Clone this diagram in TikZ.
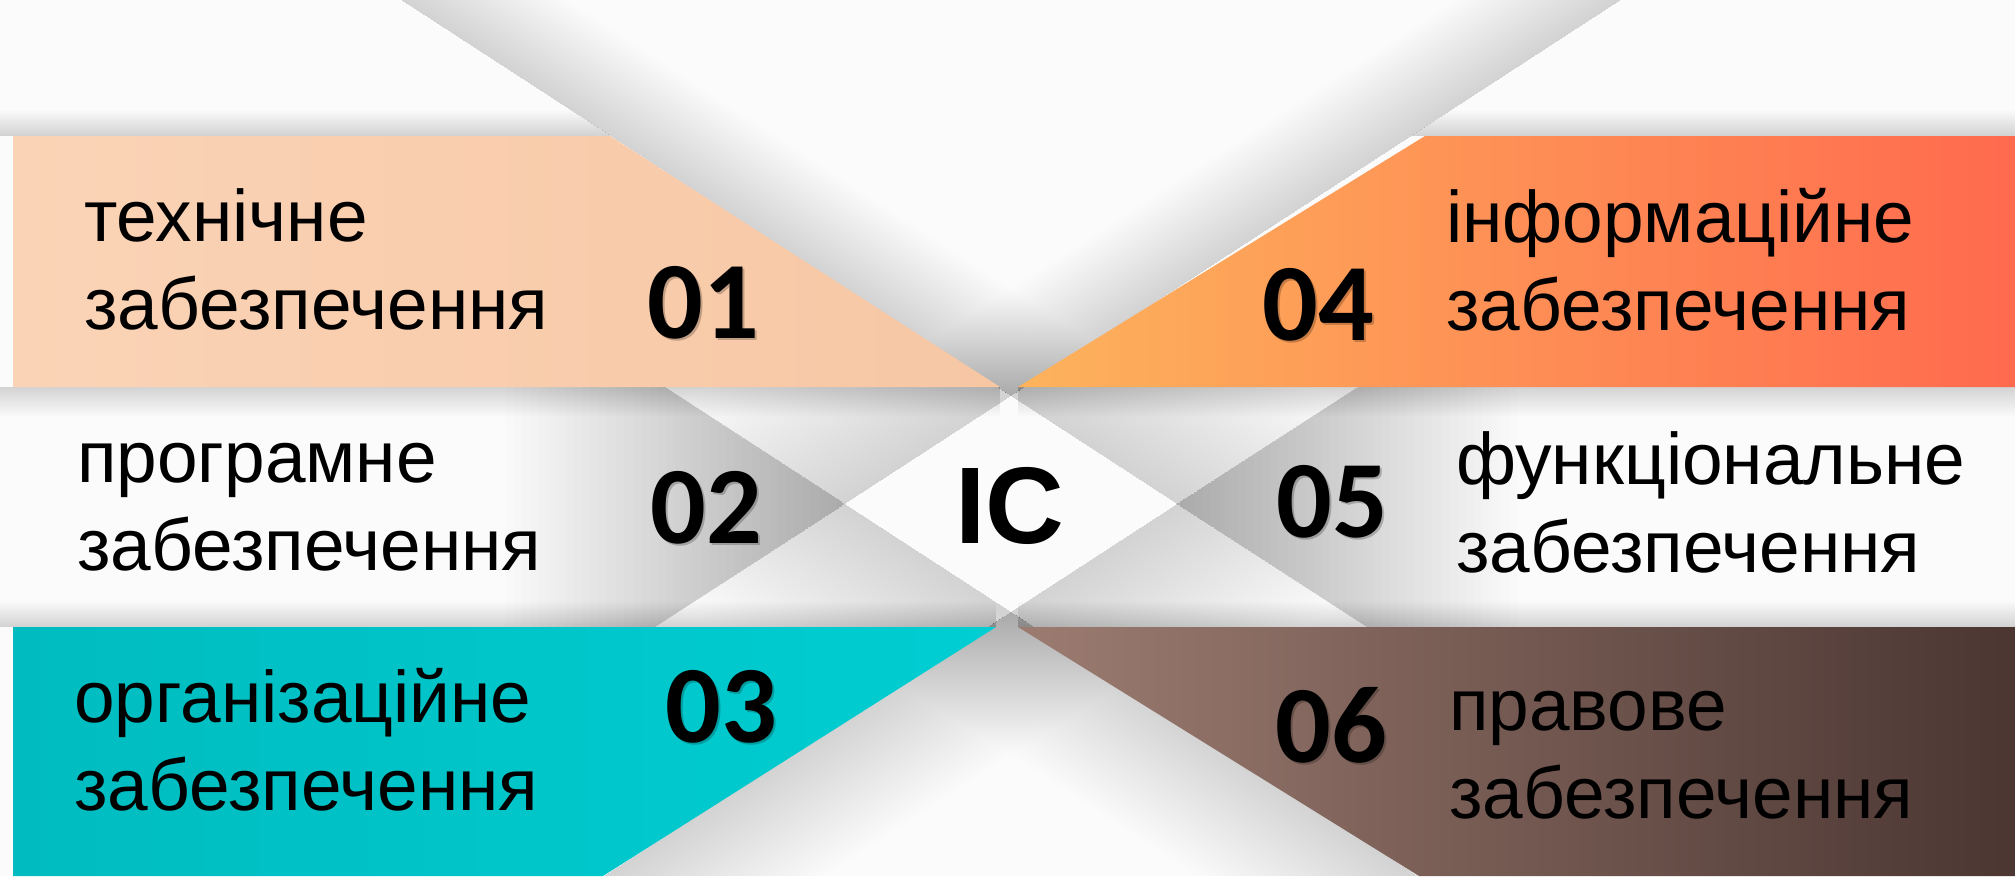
\documentclass[tikz,border=0pt]{standalone}
\usepackage{fontspec}
\setmainfont{Liberation Sans}
\newfontfamily\numfont{Carlito}
\definecolor{bgbase}{HTML}{FBFBFB}
\definecolor{bandAl}{HTML}{FAD3B6}
\definecolor{bandAr}{HTML}{F7C7A4}
\definecolor{bandBl}{HTML}{FDB35C}
\definecolor{bandBr}{HTML}{FF6A4E}
\definecolor{bandCl}{HTML}{00BCC0}
\definecolor{bandCr}{HTML}{00CED2}
\definecolor{bandDl}{HTML}{9C7C71}
\definecolor{bandDr}{HTML}{4B3632}
% soft shadow on one side of a fold line, clipped to a facet
\newcommand\shfacet[5]{%
  \begin{scope}
    \clip #1;
    \begin{scope}[shift={#2}, rotate=#3]
      \foreach \k in {1,...,40}{
        \fill[black, fill opacity=#5] (-2200,0) -- (2200,0) -- (2200,#4*\k/40) -- (-2200,#4*\k/40) -- cycle;
      }
    \end{scope}
  \end{scope}}
\tikzset{
  lab/.style={anchor=base west, inner sep=0pt, font=\fontsize{73}{88}\selectfont},
  num/.style={inner sep=0pt, font=\numfont\bfseries\fontsize{110}{110}\selectfont},
  numshadow/.style={num, text=black, text opacity=0.22},
  band/.style={draw=none}
}
\begin{document}
\begin{tikzpicture}[x=1pt,y=-1pt]
\useasboundingbox (0,0) rectangle (2015,876);
\fill[bgbase] (0,0) rectangle (2015,876);

% ---------- background facets ----------
% top V
\shfacet{(401,0) -- (1621,0) -- (1011,396) -- cycle}{(1011,396)}{147}{90}{0.0026}
\shfacet{(401,0) -- (1621,0) -- (1011,396) -- cycle}{(1011,396)}{213}{90}{0.0026}
% top side strips
\shfacet{(69,0) -- (401,0) -- (997,387) -- (665,387) -- cycle}{(278,136)}{147}{90}{0.0010}
\shfacet{(1621,0) -- (1953,0) -- (1358,387) -- (1025,387) -- cycle}{(1744,136)}{213}{90}{0.0010}
% middle row
\shfacet{(0,387) -- (665,387) -- (845,504) -- (655,627) -- (0,627) -- cycle}{(845,504)}{-90}{340}{0.0080}
\shfacet{(2015,387) -- (1358,387) -- (1177,504) -- (1367,627) -- (2015,627) -- cycle}{(1177,504)}{90}{340}{0.0080}
\shfacet{(665,387) -- (997,387) -- (1011,396) -- (845,504) -- cycle}{(1011,396)}{213}{170}{0.0055}
\shfacet{(1025,387) -- (1358,387) -- (1177,504) -- (1011,396) -- cycle}{(1011,396)}{147}{170}{0.0055}
\shfacet{(845,504) -- (1011,612) -- (988,627) -- (655,627) -- cycle}{(1011,612)}{-33}{170}{0.0055}
\shfacet{(1177,504) -- (1367,627) -- (1034,627) -- (1011,612) -- cycle}{(1011,612)}{33}{170}{0.0055}
% bottom inverted V
\shfacet{(1011,612) -- (1418,876) -- (604,876) -- cycle}{(1011,612)}{33}{120}{0.0040}
\shfacet{(1011,612) -- (1418,876) -- (604,876) -- cycle}{(1011,612)}{-33}{120}{0.0040}
% shadows of the bands
\shfacet{(0,100) -- (555,100) -- (611,136) -- (0,136) -- cycle}{(0,136)}{180}{26}{0.0026}
\shfacet{(1467,100) -- (2015,100) -- (2015,136) -- (1411,136) -- cycle}{(0,136)}{180}{26}{0.0026}
\shfacet{(0,387) -- (1000,387) -- (1000,425) -- (0,425) -- cycle}{(0,387)}{0}{30}{0.0055}
\shfacet{(1018,387) -- (2015,387) -- (2015,425) -- (1018,425) -- cycle}{(0,387)}{0}{30}{0.0055}
\shfacet{(0,595) -- (996,595) -- (996,627) -- (0,627) -- cycle}{(0,627)}{180}{26}{0.0032}
\shfacet{(1018,595) -- (2015,595) -- (2015,627) -- (1018,627) -- cycle}{(0,627)}{180}{26}{0.0032}

% ---------- bands ----------
\shade[band, left color=bandAl, right color=bandAr] (13,136) -- (610,136) -- (1000,387) -- (13,387) -- cycle;
\shade[band, left color=bandBl, right color=bandBr] (1425,136) -- (2015,136) -- (2015,387) -- (1018,387) -- cycle;
\shade[band, left color=bandCl, right color=bandCr] (13,627) -- (996,627) -- (603,876) -- (13,876) -- cycle;
\shade[band, left color=bandDl, right color=bandDr] (1018,627) -- (2015,627) -- (2015,876) -- (1419,876) -- cycle;

% ---------- labels ----------
\node[lab] (t1) at (84,241) {\begin{tabular}[t]{@{}l@{}}технічне\\забезпечення\end{tabular}};
\node[lab] (t2) at (77,482) {\begin{tabular}[t]{@{}l@{}}програмне\\забезпечення\end{tabular}};
\node[lab] (t3) at (74,722) {\begin{tabular}[t]{@{}l@{}}організаційне\\забезпечення\end{tabular}};
\node[lab] (t4) at (1446,242) {\begin{tabular}[t]{@{}l@{}}інформаційне\\забезпечення\end{tabular}};
\node[lab] (t5) at (1456,484) {\begin{tabular}[t]{@{}l@{}}функціональне\\забезпечення\end{tabular}};
\node[lab] (t6) at (1449,730) {\begin{tabular}[t]{@{}l@{}}правове\\забезпечення\end{tabular}};

% ---------- numbers ----------
\node[numshadow] (s1) at (705,305) {01};
\node[numshadow] (s2) at (708,510) {02};
\node[numshadow] (s3) at (723,709) {03};
\node[numshadow] (s4) at (1320,307) {04};
\node[numshadow] (s5) at (1334,504) {05};
\node[numshadow] (s6) at (1333,727) {06};
\node[num] (n1) at (703,303) {01};
\node[num] (n2) at (706,508) {02};
\node[num] (n3) at (721,707) {03};
\node[num] (n4) at (1318,305) {04};
\node[num] (n5) at (1332,502) {05};
\node[num] (n6) at (1331,725) {06};

% ---------- centre ----------
\node[inner sep=0pt, font=\bfseries\fontsize{109}{109}\selectfont] (ic) at (1010,506) {IC};
\end{tikzpicture}
\end{document}
